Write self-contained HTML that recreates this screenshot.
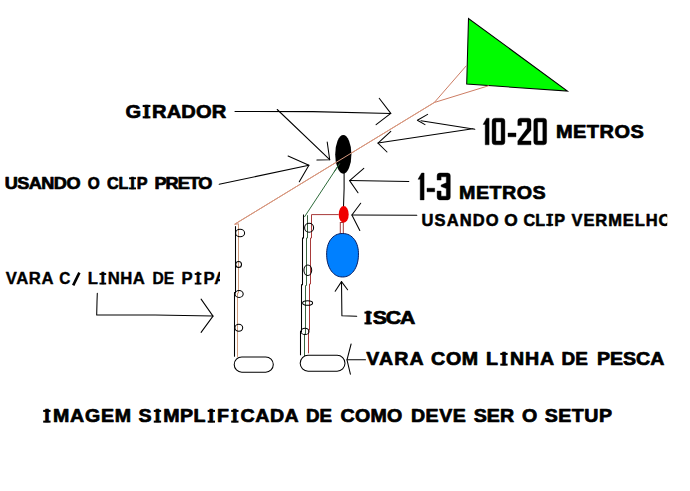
<!DOCTYPE html>
<html><head><meta charset="utf-8">
<style>
html,body{margin:0;padding:0;background:#fff;width:690px;height:491px;overflow:hidden}
svg{position:absolute;left:0;top:0;display:block}
text{font-family:"Liberation Sans",sans-serif;font-weight:bold;fill:#000;stroke:#000;stroke-linejoin:round}
</style></head><body>
<svg width="690" height="491" viewBox="0 0 690 491">
<rect width="690" height="491" fill="#fff"/>
<!-- kite -->
<polygon points="468.5,18.5 466.7,84 567.4,91.1" fill="#00fc00" stroke="#000" stroke-width="1.05" stroke-linejoin="miter"/>
<!-- orange kite lines -->
<g stroke="#cd7d64" stroke-width="1" fill="none">
<polyline points="466.5,65.5 434.3,102.5 234.7,224.2 238.5,223.8"/>
<path d="M238.5,223.8 V293 H237.5 V357.3" stroke="#cc9a7c" fill="none"/>
<line x1="488.8" y1="85.7" x2="434.3" y2="102.5"/>
</g>
<!-- black lines/arrows -->
<g stroke="#000" stroke-width="1.05" fill="none" stroke-linecap="round" stroke-linejoin="round">
<!-- GIRADOR horizontal arrow -->
<polyline points="235,111.4 313,111.6 390.8,113.4"/>
<polyline points="379.2,98.3 390.8,113.4 376.1,124.6"/>
<!-- GIRADOR diagonal arrow -->
<line x1="277.2" y1="109.5" x2="329.7" y2="159.7"/>
<polyline points="327.2,142 329.7,159.7 316.9,160"/>
<!-- CLIP PRETO arrow -->
<line x1="219.2" y1="184.3" x2="308.9" y2="165.2"/>
<polyline points="288.1,156 308.9,165.2 299.3,181.8"/>
<!-- 10-20 arrows -->
<polyline points="421,120.7 474.8,129.3 472.8,128.8 378,143.1"/>
<polyline points="427.6,114.4 417.4,120.2 425,124.6"/>
<polyline points="390.8,131.3 378,143.1 387,152"/>
<!-- 1-3 arrow -->
<line x1="349.6" y1="180.6" x2="408.8" y2="181.4"/>
<polyline points="363.8,168.4 349.6,180.6 358,192.8"/>
<!-- clip vermelho arrow -->
<line x1="351.9" y1="215" x2="416.8" y2="215.3"/>
<polyline points="360.7,203.2 351.9,215 359.8,230.5"/>
<!-- girador line down to clip -->
<polyline points="344.1,173 344.1,188.7 343.5,207"/>
<!-- pipa arrow -->
<polyline points="97.3,293.3 97,302 96.7,315 155,315 213,316.1"/>
<polyline points="201.1,299.1 213,316.1 201.1,332.4"/>
<!-- ISCA arrow -->
<polyline points="341.5,281.6 341.9,315.8 356.7,316.2"/>
<polyline points="335.2,291.2 341.5,281.6 347.6,289.8"/>
<!-- VARA COM arrow -->
<line x1="347" y1="359.8" x2="365.5" y2="359.8"/>
<polyline points="351.1,344 347,359.8 350.4,374.2"/>
<!-- rod 1 -->
<polyline points="235.5,226.5 235.5,292.5 234.5,292.5 234.5,356.3"/>
<!-- rod 2 -->
<path d="M303.5,214.4 V238 H302.5 V284.7 H301.5 V331.4 H300.5 V355.3" stroke-linecap="butt" stroke-linejoin="miter"/>
</g>
<!-- rod 2 colored lines -->
<polyline points="339.8,163.3 304.4,217" stroke="#2d6b3a" stroke-width="1" fill="none"/>
<path d="M307.5,215.2 V238 H306.5 V285.5 H305.5 V334 H304.5 V356" stroke="#3a6440" stroke-width="1" fill="none"/>
<path d="M338.7,214.6 H311.5 V238 H310.5 V284 H309.5 V330 H308.5 V353.3" stroke="#a83a3a" stroke-width="1" fill="none"/>
<rect x="340.3" y="222.5" width="3" height="11" fill="none" stroke="#a03a3a" stroke-width="1"/>
<!-- rings -->
<g stroke="#000" stroke-width="1.05" fill="none">
<ellipse cx="240.1" cy="233" rx="4.5" ry="3.7"/>
<ellipse cx="238.6" cy="264.5" rx="2.9" ry="3"/>
<ellipse cx="239.1" cy="294" rx="4.1" ry="3.5"/>
<ellipse cx="238.8" cy="327.8" rx="3.9" ry="3.5"/>
<ellipse cx="309.1" cy="227.8" rx="4.5" ry="4.5"/>
<ellipse cx="307.8" cy="270.3" rx="3.9" ry="5.2"/>
<ellipse cx="307.6" cy="303" rx="5" ry="2.3"/>
<ellipse cx="305" cy="331.4" rx="4" ry="3.2"/>
<!-- reels -->
<rect x="234.2" y="356.9" width="39.1" height="15.3" rx="7.6" ry="7.6"/>
<rect x="300.2" y="355.3" width="44.8" height="15.9" rx="7.9" ry="7.9"/>
</g>
<!-- girador ellipse -->
<ellipse cx="343.3" cy="154.4" rx="8.1" ry="19.3" fill="#000"/>
<line x1="434.3" y1="102.5" x2="234.7" y2="224.2" stroke="#d89a80" stroke-width="1"/>
<line x1="339.8" y1="163.3" x2="334" y2="172.2" stroke="#2d6b3a" stroke-width="1"/>
<!-- red clip -->
<ellipse cx="343.7" cy="214.4" rx="5" ry="8.3" fill="#f00000"/>
<!-- blue bait -->
<polygon points="358.45,255.25 358.31,257.76 358.03,260.01 357.62,262.13 357.08,264.15 356.41,266.06 355.63,267.84 354.74,269.49 353.73,271.01 352.63,272.37 351.44,273.57 350.17,274.60 348.81,275.46 347.39,276.13 345.89,276.61 344.31,276.90 342.55,277.00 340.79,276.90 339.21,276.61 337.71,276.13 336.29,275.46 334.93,274.60 333.66,273.57 332.47,272.37 331.37,271.01 330.36,269.49 329.47,267.84 328.69,266.06 328.02,264.15 327.48,262.13 327.07,260.01 326.79,257.76 326.65,255.25 326.65,252.74 326.80,250.49 327.09,248.37 327.54,246.35 328.12,244.44 328.85,242.66 329.71,241.01 330.70,239.49 331.81,238.13 333.04,236.93 334.37,235.90 335.80,235.04 337.33,234.37 338.94,233.89 340.64,233.60 342.55,233.50 344.46,233.60 346.16,233.89 347.77,234.37 349.30,235.04 350.73,235.90 352.06,236.93 353.29,238.13 354.40,239.49 355.39,241.01 356.25,242.66 356.98,244.44 357.56,246.35 358.01,248.37 358.30,250.49 358.45,252.74" fill="#0080ff" stroke="#0a1f60" stroke-width="1"/>

<g fill="#000" stroke="#000" stroke-width="0.4" stroke-linejoin="round">
<path d="M486.6,118.2 H489.1 V144.8 H485.2 V124.4 H483.1 Z"/>
<path fill-rule="evenodd" d="M495.1,118.2 H501.9 Q504.9,118.2 504.9,121.2 V141.8 Q504.9,144.8 501.9,144.8 H495.1 Q492.1,144.8 492.1,141.8 V121.2 Q492.1,118.2 495.1,118.2 Z M495.9,122 V141 H501.1 V122 Z"/>
<rect x="508" y="133" width="8" height="3.8"/>
<path d="M517.8,125.4 V121 Q517.8,118.2 520.6,118.2 H528.2 Q531,118.2 531,121 V130.3 L521.8,141 H531 V144.8 H517.8 V141 L527.1,128.3 V122 H521.5 V125.4 Z"/>
<path fill-rule="evenodd" d="M536.8,118.2 H543.6 Q546.6,118.2 546.6,121.2 V141.8 Q546.6,144.8 543.6,144.8 H536.8 Q533.8,144.8 533.8,141.8 V121.2 Q533.8,118.2 536.8,118.2 Z M537.6,122 V141 H542.8 V122 Z"/>
<path d="M421.6,173 H424.1 V199.9 H420.2 V179.3 H418 Z"/>
<rect x="427" y="188.2" width="7.7" height="3.6"/>
<path d="M437.1,180.1 V175.8 Q437.1,173 439.9,173 H447.5 Q450.3,173 450.3,175.8 V197.1 Q450.3,199.9 447.5,199.9 H439.9 Q437.1,199.9 437.1,197.1 V191 H441.1 V196.2 H446.3 V188.5 L441.1,186.6 V185 L446.3,182.8 V176.8 H441.1 V180.1 Z"/>
</g>
<line x1="79.4" y1="272.6" x2="73.2" y2="285.4" stroke="#000" stroke-width="2.6" stroke-linecap="butt"/>
<g fill="#000"><rect x="142.67" y="104.92" width="7.77" height="2.13"/><rect x="142.67" y="116.22" width="7.77" height="2.13"/><rect x="364.44" y="311.61" width="7.35" height="2.01"/><rect x="364.44" y="322.34" width="7.35" height="2.01"/><rect x="129.08" y="177.30" width="6.93" height="1.90"/><rect x="129.08" y="187.45" width="6.93" height="1.90"/><rect x="546.28" y="213.87" width="6.93" height="1.90"/><rect x="546.28" y="223.88" width="6.93" height="1.90"/><rect x="99.47" y="273.09" width="6.72" height="1.84"/><rect x="99.47" y="282.66" width="6.72" height="1.84"/><rect x="194.71" y="273.09" width="6.72" height="1.84"/><rect x="194.71" y="282.66" width="6.72" height="1.84"/><rect x="500.27" y="352.91" width="7.35" height="2.01"/><rect x="500.27" y="363.64" width="7.35" height="2.01"/><rect x="43.20" y="409.91" width="7.35" height="2.01"/><rect x="43.20" y="420.64" width="7.35" height="2.01"/><rect x="153.77" y="409.91" width="7.35" height="2.01"/><rect x="153.77" y="420.64" width="7.35" height="2.01"/><rect x="207.66" y="409.91" width="7.35" height="2.01"/><rect x="207.66" y="420.64" width="7.35" height="2.01"/><rect x="231.17" y="409.91" width="7.35" height="2.01"/><rect x="231.17" y="420.64" width="7.35" height="2.01"/></g>

<text transform="translate(125.40,118.00) scale(1.085,1)" x="0" y="0" dx="0.00 2.41 2.41 0.00 0.00 0.00 0.00" font-size="18.5" textLength="92.93" lengthAdjust="spacing" style="stroke-width:0.7px;word-spacing:0px">GIRADOR</text>
<text transform="translate(555.90,138.40) scale(1.14,1)" x="0" y="0" font-size="17.5" textLength="77.04" lengthAdjust="spacing" style="stroke-width:0.7px;word-spacing:0px">METROS</text>
<text transform="translate(459.00,199.00) scale(1.06,1)" x="0" y="0" font-size="18.6" textLength="81.70" lengthAdjust="spacing" style="stroke-width:0.7px;word-spacing:0px">METROS</text>
<text transform="translate(365.15,324.00) scale(1.215,1)" x="0" y="0" dx="0.00 2.27 0.00 0.00" font-size="17.5" textLength="41.26" lengthAdjust="spacing" style="stroke-width:0.7px;word-spacing:0px">ISCA</text>
<text transform="translate(4.80,189.00) scale(1.1,1)" x="0" y="0" font-size="16.5" textLength="68.83" lengthAdjust="spacing" style="stroke-width:0.7px;word-spacing:0px">USANDO</text>
<text transform="translate(87.70,189.00) scale(1.0,1)" x="0" y="0" font-size="16.5" textLength="11.96" lengthAdjust="spacingAndGlyphs" style="stroke-width:0.7px;word-spacing:0px">O</text>
<text transform="translate(107.00,189.00) scale(0.98,1)" x="0" y="0" dx="0.00 0.00 2.15 2.15" font-size="16.5" textLength="41.34" lengthAdjust="spacing" style="stroke-width:0.7px;word-spacing:0px">CLIP</text>
<text transform="translate(154.60,189.00) scale(1.1,1)" x="0" y="0" font-size="16.5" textLength="52.61" lengthAdjust="spacing" style="stroke-width:0.7px;word-spacing:0px">PRETO</text>
<svg x="0" y="0" width="667.2" height="491" overflow="hidden"><text transform="translate(421.50,225.50) scale(1.0,1)" x="0" y="0" font-size="16.5" textLength="77.04" lengthAdjust="spacing" style="stroke-width:0.55px;word-spacing:0px">USANDO</text></svg>
<svg x="0" y="0" width="667.2" height="491" overflow="hidden"><text transform="translate(504.20,225.50) scale(1.0,1)" x="0" y="0" font-size="16.5" textLength="13.44" lengthAdjust="spacingAndGlyphs" style="stroke-width:0.55px;word-spacing:0px">O</text></svg>
<svg x="0" y="0" width="667.2" height="491" overflow="hidden"><text transform="translate(523.40,225.50) scale(0.98,1)" x="0" y="0" dx="0.00 0.00 2.15 2.15" font-size="16.5" textLength="42.57" lengthAdjust="spacing" style="stroke-width:0.55px;word-spacing:0px">CLIP</text></svg>
<svg x="0" y="0" width="667.2" height="491" overflow="hidden"><text transform="translate(571.50,225.50) scale(1.0,1)" x="0" y="0" font-size="16.5" textLength="99.89" lengthAdjust="spacing" style="stroke-width:0.55px;word-spacing:0px">VERMELHO</text></svg>
<svg x="0" y="0" width="220" height="491" overflow="hidden"><text transform="translate(5.80,284.30) scale(1.04,1)" x="0" y="0" font-size="16" textLength="45.82" lengthAdjust="spacing" style="stroke-width:0.4px;word-spacing:0px">VARA</text></svg>
<svg x="0" y="0" width="220" height="491" overflow="hidden"><text transform="translate(59.30,284.30) scale(1.0,1)" x="0" y="0" font-size="16" textLength="11.08" lengthAdjust="spacingAndGlyphs" style="stroke-width:0.4px;word-spacing:0px">C</text></svg>
<svg x="0" y="0" width="220" height="491" overflow="hidden"><text transform="translate(87.70,284.30) scale(1.04,1)" x="0" y="0" dx="0.00 2.08 2.08 0.00 0.00" font-size="16" textLength="54.89" lengthAdjust="spacing" style="stroke-width:0.4px;word-spacing:0px">LINHA</text></svg>
<svg x="0" y="0" width="220" height="491" overflow="hidden"><text transform="translate(152.60,284.30) scale(1.0,1)" x="0" y="0" font-size="16" textLength="21.65" lengthAdjust="spacingAndGlyphs" style="stroke-width:0.4px;word-spacing:0px">DE</text></svg>
<svg x="0" y="0" width="220" height="491" overflow="hidden"><text transform="translate(181.60,284.30) scale(1.04,1)" x="0" y="0" dx="0.00 2.08 2.08 0.00" font-size="16" textLength="42.88" lengthAdjust="spacing" style="stroke-width:0.4px;word-spacing:0px">PIPA</text></svg>
<text transform="translate(366.30,365.30) scale(1.12,1)" x="0" y="0" font-size="17.5" textLength="51.18" lengthAdjust="spacing" style="stroke-width:0.7px;word-spacing:0px">VARA</text>
<text transform="translate(431.10,365.30) scale(1.12,1)" x="0" y="0" font-size="17.5" textLength="42.06" lengthAdjust="spacing" style="stroke-width:0.7px;word-spacing:0px">COM</text>
<text transform="translate(485.90,365.30) scale(1.12,1)" x="0" y="0" dx="0.00 2.27 2.27 0.00 0.00" font-size="17.5" textLength="60.87" lengthAdjust="spacing" style="stroke-width:0.7px;word-spacing:0px">LINHA</text>
<text transform="translate(561.60,365.30) scale(1.0,1)" x="0" y="0" font-size="17.5" textLength="26.26" lengthAdjust="spacingAndGlyphs" style="stroke-width:0.7px;word-spacing:0px">DE</text>
<text transform="translate(596.90,365.30) scale(1.12,1)" x="0" y="0" font-size="17.5" textLength="60.17" lengthAdjust="spacing" style="stroke-width:0.7px;word-spacing:0px">PESCA</text>
<text transform="translate(44.15,422.30) scale(1.12,1)" x="0" y="0" dx="0.00 2.27 0.00 0.00 0.00 0.00" font-size="17.5" textLength="77.67" lengthAdjust="spacing" style="stroke-width:0.7px;word-spacing:0px">IMAGEM</text>
<text transform="translate(138.60,422.30) scale(1.12,1)" x="0" y="0" dx="0.00 2.27 2.27 0.00 0.00 2.27 2.27 2.27 2.27 0.00 0.00 0.00" font-size="17.5" textLength="142.93" lengthAdjust="spacing" style="stroke-width:0.7px;word-spacing:0px">SIMPLIFICADA</text>
<text transform="translate(306.00,422.30) scale(1.0,1)" x="0" y="0" font-size="17.5" textLength="25.98" lengthAdjust="spacingAndGlyphs" style="stroke-width:0.7px;word-spacing:0px">DE</text>
<text transform="translate(340.60,422.30) scale(1.12,1)" x="0" y="0" font-size="17.5" textLength="55.15" lengthAdjust="spacing" style="stroke-width:0.7px;word-spacing:0px">COMO</text>
<text transform="translate(411.00,422.30) scale(1.12,1)" x="0" y="0" font-size="17.5" textLength="48.92" lengthAdjust="spacing" style="stroke-width:0.7px;word-spacing:0px">DEVE</text>
<text transform="translate(473.70,422.30) scale(1.12,1)" x="0" y="0" font-size="17.5" textLength="36.07" lengthAdjust="spacing" style="stroke-width:0.7px;word-spacing:0px">SER</text>
<text transform="translate(522.10,422.30) scale(1.0,1)" x="0" y="0" font-size="17.5" textLength="15.25" lengthAdjust="spacingAndGlyphs" style="stroke-width:0.7px;word-spacing:0px">O</text>
<text transform="translate(544.80,422.30) scale(1.12,1)" x="0" y="0" font-size="17.5" textLength="60.00" lengthAdjust="spacing" style="stroke-width:0.7px;word-spacing:0px">SETUP</text>
</svg>
</body></html>
